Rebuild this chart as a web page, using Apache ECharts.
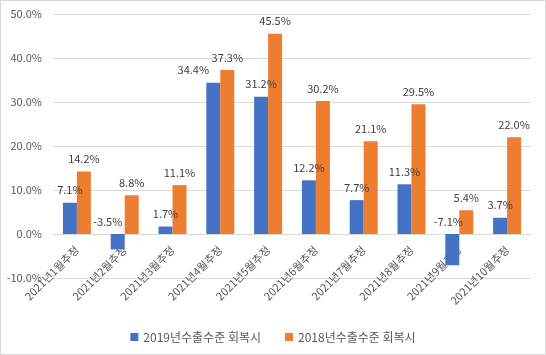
<!DOCTYPE html>
<html><head><meta charset="utf-8">
<script src="https://cdn.jsdelivr.net/npm/echarts@6/dist/echarts.min.js"></script>
<style>
html,body{margin:0;padding:0;background:#fff;}
#c{width:544px;height:353px;border:1px solid #d9d9d9;}
</style></head>
<body><div id="c"></div>
<script>
const categories = ['2021년1월추정','2021년2월추정','2021년3월추정','2021년4월추정','2021년5월추정','2021년6월추정','2021년7월추정','2021년8월추정','2021년9월추정','2021년10월추정'];
const series2019 = [7.1, -3.5, 1.7, 34.4, 31.2, 12.2, 7.7, 11.3, -7.1, 3.7];
const series2018 = [14.2, 8.8, 11.1, 37.3, 45.5, 30.2, 21.1, 29.5, 5.4, 22.0];
const seriesNames = ['2019년수출수준 회복시', '2018년수출수준 회복시'];
// horizontal nudges of individual data labels, as placed in the reference
const labelShift2019 = [0, -10, 0, -20, 0, 0, 0, 0, -4, 0];
const FONT = '"Noto Sans CJK KR", "Noto Sans", sans-serif';
const chart = echarts.init(document.getElementById('c'));
const lbl = {show:true, position:'top', distance:7, color:'#404040', fontSize:11, fontFamily:FONT, formatter:p=>p.value.toFixed(1)+'%'};
const gridTop = 13, gridBottom = 76, H = 353;
const plotH = H - gridTop - gridBottom;
const zeroOffset = -plotH * 10 / 60;
chart.setOption({
  animation:false,
  textStyle:{fontFamily:FONT},
  grid:{left:52, right:14, top:gridTop, bottom:gridBottom, containLabel:false},
  legend:{bottom:6, left:'center', itemWidth:8, itemHeight:8, itemGap:24, icon:'rect',
    textStyle:{color:'#595959', fontSize:12, fontFamily:FONT}, data:seriesNames},
  xAxis:{type:'category', data:categories, offset:zeroOffset, z:0,
    axisLine:{onZero:false, lineStyle:{color:'#d9d9d9'}}, axisTick:{show:false},
    axisLabel:{rotate:45, color:'#595959', fontSize:11, fontFamily:FONT, margin:14, interval:0}},
  yAxis:{type:'value', min:-10, max:50, interval:10, z:0,
    axisLine:{show:false}, axisTick:{show:false},
    splitLine:{lineStyle:{color:'#d9d9d9'}},
    axisLabel:{color:'#595959', fontSize:11, fontFamily:FONT, margin:11, formatter:v=>v.toFixed(1)+'%'}},
  series:[
    {name:seriesNames[0], type:'bar', z:5, barWidth:14, barGap:'0%', itemStyle:{color:'#4472C4'}, label:lbl,
      data:series2019.map((v,i)=>({value:v, label:{offset:[labelShift2019[i],0]}}))},
    {name:seriesNames[1], type:'bar', z:5, data:series2018, barWidth:14, barGap:'0%', itemStyle:{color:'#ED7D31'}, label:lbl}
  ]
});
</script></body></html>
